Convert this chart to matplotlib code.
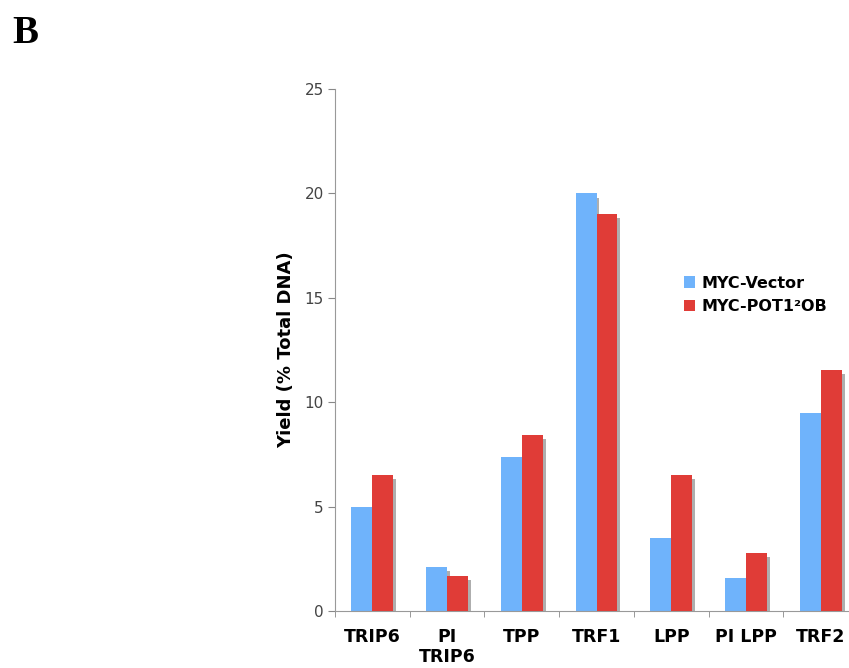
import numpy as np
import matplotlib.pyplot as plt

categories = ["TRIP6", "PI\nTRIP6", "TPP", "TRF1", "LPP", "PI LPP", "TRF2"]
vector = [5.0, 2.1, 7.4, 20.0, 3.5, 1.6, 9.5]
pot1 = [6.5, 1.7, 8.45, 19.0, 6.5, 2.8, 11.55]

blue = "#6fb3fb"
red = "#e03c37"

fig = plt.figure(figsize=(8.49, 6.68), dpi=100)
ax = fig.add_axes([0.3946, 0.0853, 0.6160, 0.7814])

x = np.arange(len(categories))
w = 0.28
# drop shadows
dx, dy = 0.04, -0.2
ax.bar(x - w / 2 + dx, np.array(vector) + dy, w, color="#9a9a9a", alpha=0.8, zorder=1)
ax.bar(x + w / 2 + dx, np.array(pot1) + dy, w, color="#9a9a9a", alpha=0.8, zorder=1)
ax.bar(x - w / 2, vector, w, color=blue, label="MYC-Vector", zorder=2)
ax.bar(x + w / 2, pot1, w, color=red, label="MYC-POT1\u00b2OB", zorder=3)

ax.set_xlim(-0.5, len(categories) - 0.5)
ax.set_ylim(0, 25)
ax.set_yticks([0, 5, 10, 15, 20, 25])
ax.set_xticks(x)
ax.set_xticklabels(categories, fontsize=12.5, fontweight="bold", linespacing=1.2)
ax.set_xticks(np.arange(-0.5, len(categories), 1), minor=True)
ax.tick_params(axis="x", which="major", length=0, pad=12)
ax.tick_params(axis="x", which="minor", length=4, color="#888888", direction="out")
ax.tick_params(axis="y", length=5, color="#888888", labelcolor="#444444", labelsize=11, pad=3)

for s in ["top", "right"]:
    ax.spines[s].set_visible(False)
for s in ["left", "bottom"]:
    ax.spines[s].set_color("#999999")

ax.set_ylabel("Yield (% Total DNA)", fontsize=13, fontweight="bold", labelpad=7)

ax.legend(loc="upper left", bbox_to_anchor=(0.64, 0.67), frameon=False,
          prop={"weight": "bold", "size": 11.5}, handlelength=0.7, handleheight=0.7,
          handletextpad=0.4, labelspacing=0.55)

fig.text(0.015, 0.935, "B", fontsize=28, fontweight="bold", family="Liberation Serif")

fig.savefig("out.png", dpi=100)
